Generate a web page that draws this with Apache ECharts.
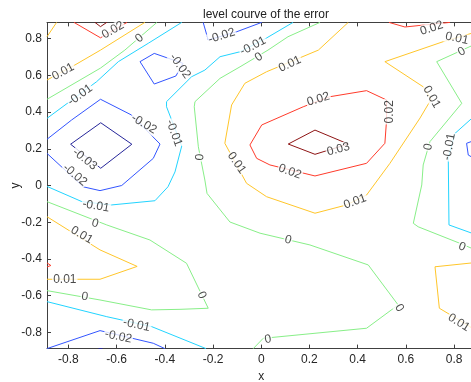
<!DOCTYPE html>
<html>
<head>
<meta charset="utf-8">
<script src="https://cdn.jsdelivr.net/npm/echarts@6/dist/echarts.min.js"></script>
<style>
html,body{margin:0;padding:0;background:#fff;}
#chart{width:471px;height:382px;}
</style>
</head>
<body>
<div id="chart"></div>
<script>
// ---- data ----
const axisMin = -0.889;
const axisMax = 0.889;
const xTicks = [-0.8, -0.6, -0.4, -0.2, 0, 0.2, 0.4, 0.6, 0.8];
const yTicks = [-0.8, -0.6, -0.4, -0.2, 0, 0.2, 0.4, 0.6, 0.8];
const levels = [-0.03, -0.02, -0.01, 0, 0.01, 0.02, 0.03];

// contour polylines per level, points are [x, y]
const levelM03 = [
  [[-0.791,0.225],[-0.666,0.342],[-0.537,0.225],[-0.666,0.094],[-0.791,0.225]],
  [[-0.675,-0.889],[-0.667,-0.880],[-0.659,-0.889]]
];
const levelM02 = [
  [[-0.503,0.675],[-0.444,0.720],[-0.325,0.666],[-0.354,0.597],[-0.444,0.553],[-0.503,0.675]],
  [[-0.241,0.889],[-0.220,0.793],[-0.102,0.838],[0.002,0.889]],
  [[-0.889,0.252],[-0.787,0.357],[-0.667,0.470],[-0.538,0.384],[-0.420,0.226],[-0.448,0.148],[-0.579,0.0],[-0.669,-0.028],[-0.739,-0.007],[-0.889,0.175]],
  [[-0.889,-0.889],[-0.669,-0.791],[-0.448,-0.860],[-0.400,-0.889]],
  [[0.889,0.248],[0.852,0.230],[0.859,0.166],[0.889,0.144]]
];
const levelM01 = [
  [[-0.889,0.366],[-0.683,0.566],[-0.593,0.675],[-0.469,0.775],[-0.330,0.889]],
  [[0.132,0.889],[0.022,0.804],[-0.088,0.729],[-0.171,0.702],[-0.234,0.629],[-0.289,0.593],[-0.393,0.457],[-0.393,0.429],[-0.330,0.215],[-0.358,0.074],[-0.387,-0.007],[-0.441,-0.083],[-0.621,-0.106],[-0.744,-0.088],[-0.889,-0.005]],
  [[-0.889,-0.633],[-0.641,-0.715],[-0.455,-0.769],[-0.229,-0.889]],
  [[0.889,0.384],[0.804,0.284],[0.776,0.150],[0.779,-0.215],[0.889,-0.267]]
];
const level0 = [
  [[-0.889,0.470],[-0.667,0.640],[-0.566,0.738],[-0.433,0.889]],
  [[0.244,0.889],[0.111,0.811],[0.028,0.738],[-0.088,0.647],[-0.171,0.584],[-0.275,0.457],[-0.278,0.429],[-0.261,0.211],[-0.234,0.030],[-0.225,-0.043],[-0.130,-0.199],[-0.005,-0.260],[0.202,-0.324],[0.444,-0.433],[0.568,-0.651],[0.437,-0.778],[0.008,-0.833],[-0.033,-0.889]],
  [[-0.889,-0.088],[-0.641,-0.215],[-0.462,-0.297],[-0.310,-0.424],[-0.220,-0.669],[-0.337,-0.675],[-0.455,-0.678],[-0.669,-0.624],[-0.889,-0.573]],
  [[0.889,0.771],[0.728,0.675],[0.832,0.448],[0.700,0.239],[0.672,0.112],[0.666,0.003],[0.631,-0.206],[0.651,-0.225],[0.824,-0.315],[0.889,-0.351]]
];
const levelP01 = [
  [[-0.849,0.889],[-0.889,0.811]],
  [[-0.889,0.575],[-0.773,0.657],[-0.667,0.738],[-0.483,0.889]],
  [[0.361,0.889],[0.237,0.738],[0.022,0.620],[-0.068,0.557],[-0.123,0.439],[-0.151,0.230],[-0.061,0.012],[0.022,-0.061],[0.223,-0.151],[0.354,-0.106],[0.437,-0.052],[0.534,0.121],[0.659,0.368],[0.705,0.470],[0.672,0.538],[0.513,0.675],[0.755,0.784],[0.889,0.836]],
  [[-0.889,-0.170],[-0.669,-0.351],[-0.515,-0.441],[-0.669,-0.511],[-0.889,-0.511]],
  [[0.889,-0.420],[0.721,-0.443],[0.739,-0.669],[0.889,-0.787]]
];
const levelP02 = [
  [[-0.777,0.889],[-0.667,0.805],[-0.557,0.889]],
  [[0.285,0.484],[0.437,0.517],[0.520,0.466],[0.520,0.357],[0.513,0.230],[0.437,0.121],[0.223,0.052],[0.036,0.112],[-0.019,0.148],[-0.047,0.221],[0.002,0.330],[0.174,0.429],[0.285,0.484]],
  [[0.530,0.889],[0.596,0.864],[0.783,0.889]],
  [[-0.889,-0.422],[-0.873,-0.436],[-0.889,-0.444]]
];
const levelP03 = [
  [[-0.690,0.889],[-0.667,0.866],[-0.641,0.889]],
  [[0.112,0.226],[0.223,0.302],[0.361,0.226],[0.223,0.170],[0.112,0.226]]
];

// inline contour labels: [x, y, text]
const contourLabels = [
  [-0.615,0.847,'0.02'], [-0.822,0.620,'0.01'], [-0.506,0.802,'0'], [-0.752,0.493,'-0.01'],
  [-0.337,0.651,'-0.02'], [-0.164,0.815,'-0.02'], [-0.034,0.760,'-0.01'], [-0.362,0.286,'-0.01'],
  [-0.686,-0.112,'-0.01'], [-0.487,0.335,'-0.02'], [-0.773,0.057,'-0.02'], [-0.732,0.143,'-0.03'],
  [0.320,0.197,'0.03'], [0.237,0.470,'0.02'], [0.534,0.402,'0.02'], [0.119,0.075,'0.02'],
  [0.119,0.662,'0.01'], [-0.102,0.123,'0.01'], [0.389,-0.088,'0.01'], [0.707,0.482,'0.01'],
  [0.812,0.802,'0.01'], [0.707,0.857,'0.02'], [0.832,0.729,'0'], [0.693,0.210,'0'],
  [0.833,-0.335,'0'], [0.780,0.211,'-0.01'], [-0.010,0.700,'0'], [-0.254,0.155,'0'],
  [0.111,-0.297,'0'], [0.573,-0.668,'0'], [0.028,-0.839,'0'], [-0.745,-0.270,'0.01'],
  [-0.815,-0.515,'0.01'], [-0.690,-0.206,'0'], [-0.247,-0.597,'0'], [-0.732,-0.606,'0'],
  [-0.517,-0.760,'-0.01'], [-0.593,-0.824,'-0.02'], [0.820,-0.747,'0.01']
];

// ---- styles ----
const labelAngles = [30,28,40,36, -54,18,27,-70, -10,-31,-40,-38, 15,17,90,-20, 25,-55,20,-60,
  -12,18,30,80, -21,80,35,85, -15,-60,10,-30, 0,-15,-65,-8, -12,-12,-32];
const levelColors = ['#26269a', '#3355ff', '#22d4ff', '#88ef88', '#ffc62a', '#ff3b2b', '#8e1414'];
const levelPieces = [levelM03, levelM02, levelM01, level0, levelP01, levelP02, levelP03];

const series = [];
levelPieces.forEach((pieces, li) => {
  pieces.forEach(pts => {
    series.push({
      type: 'line',
      name: String(levels[li]),
      xAxisIndex: 0, yAxisIndex: 0,
      data: pts,
      showSymbol: false,
      symbol: 'none',
      smooth: false,
      clip: true,
      silent: true,
      lineStyle: { color: levelColors[li], width: 1 },
      z: 2
    });
  });
});
series.push({
  type: 'scatter',
  xAxisIndex: 0, yAxisIndex: 0,
  symbolSize: 0,
  silent: true,
  z: 5,
  data: contourLabels.map((d, i) => ({
    value: [d[0], d[1]],
    name: d[2],
    label: { rotate: labelAngles[i] }
  })),
  label: {
    show: true,
    position: 'inside',
    formatter: '{b}',
    fontSize: 12,
    fontFamily: 'Liberation Sans, Arial, sans-serif',
    color: '#1a1a1a',
    backgroundColor: '#fff',
    padding: [0, 1]
  }
});

const axisCommon = {
  type: 'value', min: axisMin, max: axisMax,
  splitLine: { show: false },
  axisLine: { show: true, onZero: false, lineStyle: { color: '#404040', width: 1 } },
};
const labelStyle = { color: '#262626', fontSize: 12, fontFamily: 'Liberation Sans, Arial, sans-serif' };

const chart = echarts.init(document.getElementById('chart'), null, { renderer: 'canvas' });
chart.setOption({
  animation: false,
  backgroundColor: '#fff',
  title: {
    text: 'level courve of the error',
    left: 261, top: 4, textAlign: 'center',
    textStyle: { fontSize: 12, fontWeight: 'normal', color: '#222', fontFamily: 'Liberation Sans, Arial, sans-serif' }
  },
  grid: { left: 47, top: 22.4, right: -4.5, bottom: 33.4, containLabel: false, outerBoundsMode: 'none' },
  xAxis: [
    Object.assign({}, axisCommon, {
      position: 'bottom',
      name: 'x', nameLocation: 'middle', nameGap: 22,
      nameTextStyle: labelStyle,
      axisTick: { show: true, inside: true, length: 4, customValues: xTicks, lineStyle: { color: '#404040' } },
      axisLabel: Object.assign({ customValues: xTicks, margin: 5, formatter: v => String(v) }, labelStyle)
    }),
    Object.assign({}, axisCommon, {
      position: 'top',
      axisTick: { show: true, inside: true, length: 4, customValues: xTicks, lineStyle: { color: '#404040' } },
      axisLabel: { show: false }
    })
  ],
  yAxis: [
    Object.assign({}, axisCommon, {
      position: 'left',
      name: 'y', nameLocation: 'middle', nameGap: 25, nameRotate: 90, nameMoveOverlap: false,
      nameTextStyle: labelStyle,
      axisTick: { show: true, inside: true, length: 4, customValues: yTicks, lineStyle: { color: '#404040' } },
      axisLabel: Object.assign({ customValues: yTicks, margin: 5, formatter: v => String(v) }, labelStyle)
    }),
    Object.assign({}, axisCommon, {
      position: 'right',
      axisTick: { show: true, inside: true, length: 4, customValues: yTicks, lineStyle: { color: '#404040' } },
      axisLabel: { show: false }
    })
  ],
  series: series
});
</script>
</body>
</html>
